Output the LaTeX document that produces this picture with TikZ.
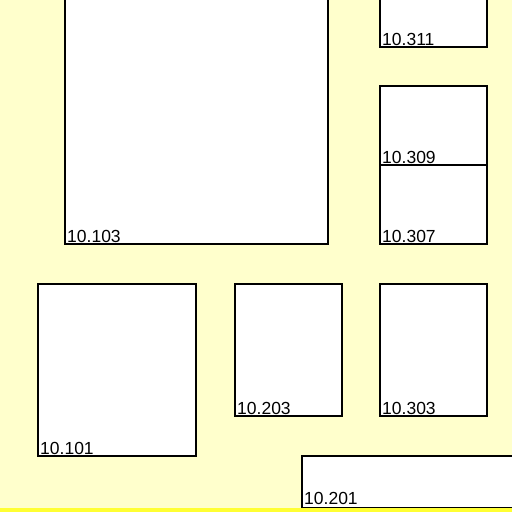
\documentclass[tikz,border=0pt]{standalone}
\usepackage{fontspec}
\setmainfont{Liberation Sans}
\definecolor{paper}{HTML}{FFFFCC}
\definecolor{band}{HTML}{FFFF33}

\begin{document}
\begin{tikzpicture}[x=1pt, y=-1pt,
		room/.style={draw, fill=white, line width=1.5pt},
		roomlabel/.style={anchor=base west, inner sep=0pt, font=\fontsize{17.5}{17.5}\selectfont}]
		\useasboundingbox (0,0) rectangle (512,512);
		\clip (0,0) rectangle (512,512);
		\fill[paper] (0,0) rectangle (512,512);

		\draw[room] (65,-10) rectangle (328,244);
		\draw[room] (380,-10) rectangle (487,47);
		\draw[room] (380,86) rectangle (487,165);
		\draw[room] (380,165) rectangle (487,244);
		\draw[room] (38,284) rectangle (196,456);
		\draw[room] (235,284) rectangle (342,416);
		\draw[room] (380,284) rectangle (487,416);
		\draw[room] (302,456) rectangle (530,508);

		\node (r103)[roomlabel] at (67,242)   {10.103};
		\node (r311)[roomlabel] at (382,45)   {10.311};
		\node (r309)[roomlabel] at (382,163)  {10.309};
		\node (r307)[roomlabel] at (382,242)  {10.307};
		\node (r101)[roomlabel] at (40,454)   {10.101};
		\node (r203)[roomlabel] at (237,414)  {10.203};
		\node (r303)[roomlabel] at (382,414)  {10.303};
		\node (r201)[roomlabel] at (304,504)  {10.201};

		\fill[band] (0,508) rectangle (512,512);
	\end{tikzpicture}
\end{document}
